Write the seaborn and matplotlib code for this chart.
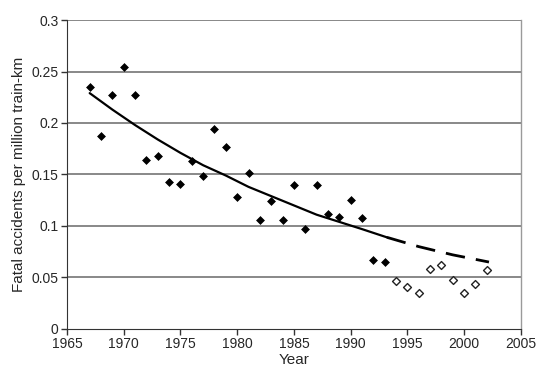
import numpy as np
import pandas as pd
import seaborn as sns
import matplotlib
matplotlib.use('Agg')
import matplotlib.pyplot as plt

# observed fatal accident rates (filled = fitted period, open = later years)
years_fit = [1967, 1968, 1969, 1970, 1971, 1972, 1973, 1974, 1975, 1976, 1977, 1978, 1979,
             1980, 1981, 1982, 1983, 1984, 1985, 1986, 1987, 1988, 1989, 1990, 1991, 1992, 1993]
rates_fit = [0.235, 0.187, 0.227, 0.254, 0.227, 0.164, 0.168, 0.143, 0.141, 0.163, 0.149, 0.194, 0.177,
             0.128, 0.151, 0.106, 0.124, 0.106, 0.140, 0.097, 0.140, 0.112, 0.109, 0.125, 0.108, 0.067, 0.065]

years_later = [1994, 1995, 1996, 1997, 1998, 1999, 2000, 2001, 2002]
rates_later = [0.047, 0.041, 0.035, 0.058, 0.062, 0.048, 0.035, 0.044, 0.057]

# trend curve
trend_years = [1967, 1969, 1971, 1973, 1975, 1977, 1979, 1981, 1983, 1985, 1987, 1989, 1991, 1993.2]
trend_vals = [0.229, 0.213, 0.198, 0.184, 0.171, 0.159, 0.149, 0.138, 0.129, 0.120, 0.111, 0.104, 0.097, 0.089]
proj_years = [1993.2, 1996, 1999, 2002.2]
proj_vals = [0.089, 0.080, 0.072, 0.065]

df_fit = pd.DataFrame({'Year': years_fit, 'Rate': rates_fit})
df_later = pd.DataFrame({'Year': years_later, 'Rate': rates_later})
df_trend = pd.DataFrame({'Year': trend_years, 'Rate': trend_vals})
df_proj = pd.DataFrame({'Year': proj_years, 'Rate': proj_vals})

sns.set_style('white')
plt.rcParams['font.family'] = ['Liberation Sans', 'DejaVu Sans']

fig = plt.figure(figsize=(5.47, 3.81), dpi=100)
ax = fig.add_axes([0.1225, 0.1365, 0.8295, 0.811])

for v in [0.05, 0.1, 0.15, 0.2, 0.25, 0.3]:
    ax.axhline(v, color='#7f7f7f', lw=1.3, zorder=0)

sns.lineplot(data=df_trend, x='Year', y='Rate', ax=ax, color='black', lw=1.6)
sns.lineplot(data=df_proj, x='Year', y='Rate', ax=ax, color='black', lw=2.0, dashes=False)
ax.lines[-1].set_dashes([7, 4])

sns.scatterplot(data=df_fit, x='Year', y='Rate', ax=ax, marker='D', s=16,
                color='black', edgecolor='black', linewidth=0.5, zorder=3)
sns.scatterplot(data=df_later, x='Year', y='Rate', ax=ax, marker='D', s=16,
                facecolor='white', edgecolor='#222222', linewidth=1.0, zorder=3)

ax.set_xlim(1965, 2005)
ax.set_ylim(0, 0.3)
ax.set_xticks(range(1965, 2006, 5))
ax.set_yticks([0, 0.05, 0.1, 0.15, 0.2, 0.25, 0.3])
ax.set_yticklabels(['0', '0.05', '0.1', '0.15', '0.2', '0.25', '0.3'])
ax.tick_params(axis='both', labelsize=10, direction='out', length=4, width=1,
               color='#333333', left=True, bottom=True, pad=2)

ax.spines['top'].set_visible(False)
ax.spines['right'].set_color('#9a9a9a')
ax.spines['right'].set_linewidth(1.0)
ax.spines['left'].set_color('#333333')
ax.spines['bottom'].set_color('#333333')

ax.set_xlabel('Year', fontsize=11, labelpad=1)
ax.set_ylabel('Fatal accidents per million train-km', fontsize=11, labelpad=4)

fig.savefig('out.png', dpi=100)
